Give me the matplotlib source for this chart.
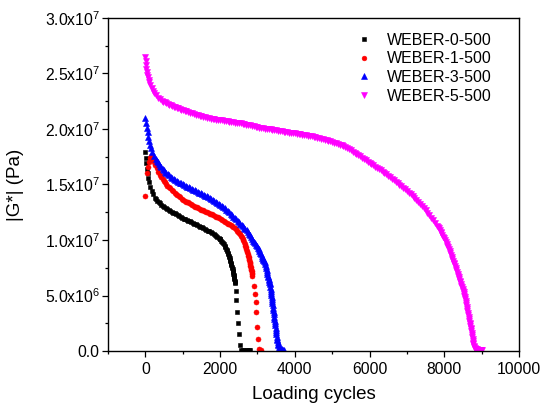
import numpy as np
import matplotlib
matplotlib.use("Agg")
import matplotlib.pyplot as plt
from matplotlib.ticker import FixedLocator, MultipleLocator

plt.rcParams["font.family"] = ["Liberation Sans", "DejaVu Sans"]
plt.rcParams["mathtext.fontset"] = "custom"
plt.rcParams["mathtext.rm"] = "Liberation Sans"
plt.rcParams["mathtext.it"] = "Liberation Sans:italic"
plt.rcParams["mathtext.bf"] = "Liberation Sans:bold"

# (loading cycle, |G*| in units of 1e6 Pa) for each mixture
weber0 = [
    (0, 17.9), (15, 17.4), (30, 16.9), (45, 16.4), (60, 16.0), (80, 15.6), (105, 15.2),
    (135, 14.8), (170, 14.45), (210, 14.1), (260, 13.8), (290, 13.67), (320, 13.55),
    (355, 13.42), (390, 13.3), (430, 13.19), (470, 13.08), (510, 12.98), (550, 12.88),
    (590, 12.79), (630, 12.7), (670, 12.62), (710, 12.55), (750, 12.47), (790, 12.4),
    (830, 12.32), (870, 12.25), (910, 12.16), (950, 12.08), (990, 12.0), (1030, 11.93),
    (1070, 11.86), (1110, 11.8), (1150, 11.73), (1190, 11.67), (1230, 11.6),
    (1270, 11.53), (1310, 11.46), (1350, 11.4), (1390, 11.33), (1430, 11.27),
    (1470, 11.2), (1510, 11.13), (1550, 11.06), (1590, 11.0), (1630, 10.92),
    (1670, 10.85), (1710, 10.77), (1750, 10.7), (1790, 10.62), (1830, 10.55),
    (1865, 10.47), (1900, 10.38), (1930, 10.29), (1960, 10.2), (1985, 10.12),
    (2010, 10.05), (2035, 9.95), (2060, 9.85), (2080, 9.72), (2100, 9.6),
    (2120, 9.47), (2140, 9.35), (2158, 9.22), (2175, 9.1), (2190, 8.97), (2205, 8.85),
    (2218, 8.72), (2230, 8.6), (2243, 8.47), (2255, 8.35), (2265, 8.22), (2275, 8.1),
    (2285, 7.97), (2295, 7.85), (2305, 7.72), (2315, 7.6), (2325, 7.47), (2335, 7.35),
    (2343, 7.22), (2350, 7.1), (2358, 6.97), (2365, 6.85), (2372, 6.72), (2378, 6.6),
    (2384, 6.47), (2390, 6.35), (2395, 6.22), (2400, 6.1), (2417, 5.45), (2435, 4.55),
    (2458, 3.5), (2482, 2.5), (2507, 1.5), (2532, 0.5), (2570, 0.1), (2620, 0.08),
    (2670, 0.06), (2720, 0.05), (2770, 0.05), (2810, 0.05),
]

weber1 = [
    (0, 14.0), (40, 16.05), (70, 16.6), (95, 17.05), (120, 17.4), (150, 17.55),
    (185, 17.3), (220, 17.05), (260, 16.8), (300, 16.5), (350, 16.15), (400, 15.85),
    (430, 15.67), (460, 15.5), (490, 15.35), (520, 15.2), (555, 15.05), (590, 14.9),
    (625, 14.77), (660, 14.65), (700, 14.51), (740, 14.38), (780, 14.26), (820, 14.15),
    (860, 14.04), (900, 13.93), (940, 13.83), (980, 13.73), (1020, 13.64),
    (1060, 13.55), (1100, 13.46), (1140, 13.38), (1180, 13.3), (1220, 13.22),
    (1260, 13.14), (1300, 13.07), (1340, 13.0), (1380, 12.93), (1420, 12.86),
    (1460, 12.8), (1500, 12.73), (1540, 12.67), (1580, 12.61), (1620, 12.55),
    (1660, 12.48), (1700, 12.42), (1740, 12.36), (1780, 12.3), (1820, 12.23),
    (1860, 12.17), (1900, 12.1), (1940, 12.03), (1980, 11.97), (2020, 11.9),
    (2060, 11.82), (2100, 11.73), (2140, 11.65), (2180, 11.56), (2215, 11.48),
    (2250, 11.41), (2285, 11.34), (2320, 11.27), (2355, 11.18), (2390, 11.08),
    (2420, 10.97), (2450, 10.85), (2478, 10.74), (2505, 10.62), (2530, 10.51),
    (2555, 10.4), (2578, 10.26), (2600, 10.12), (2620, 9.96), (2640, 9.8),
    (2658, 9.65), (2675, 9.5), (2690, 9.34), (2705, 9.18), (2718, 9.04), (2730, 8.9),
    (2741, 8.75), (2752, 8.6), (2762, 8.45), (2772, 8.3), (2781, 8.17), (2790, 8.05),
    (2798, 7.92), (2805, 7.8), (2813, 7.67), (2820, 7.55), (2828, 7.42), (2835, 7.3),
    (2842, 7.17), (2848, 7.05), (2855, 6.9), (2862, 6.75), (2900, 5.85), (2928, 5.1),
    (2950, 4.4), (2970, 3.55), (2995, 2.2), (3015, 1.1), (3045, 0.18), (3100, 0.05),
]

weber3 = [
    (0, 21.0), (20, 20.5), (40, 20.1), (60, 19.7), (80, 19.3), (100, 18.95),
    (125, 18.6), (155, 18.25), (190, 17.9), (230, 17.6), (275, 17.3), (300, 17.15),
    (330, 17.0), (360, 16.85), (390, 16.7), (425, 16.56), (460, 16.42), (495, 16.3),
    (530, 16.17), (565, 16.06), (600, 15.95), (640, 15.83), (680, 15.72), (720, 15.62),
    (760, 15.52), (800, 15.43), (840, 15.35), (880, 15.26), (920, 15.18), (960, 15.1),
    (1000, 15.03), (1040, 14.95), (1080, 14.88), (1120, 14.81), (1160, 14.74),
    (1200, 14.67), (1240, 14.6), (1280, 14.53), (1320, 14.47), (1360, 14.4),
    (1400, 14.34), (1440, 14.27), (1480, 14.2), (1520, 14.13), (1560, 14.06),
    (1600, 13.99), (1640, 13.92), (1680, 13.85), (1720, 13.77), (1760, 13.69),
    (1800, 13.6), (1840, 13.52), (1880, 13.43), (1920, 13.34), (1960, 13.25),
    (2000, 13.17), (2040, 13.1), (2080, 12.98), (2120, 12.85), (2160, 12.73),
    (2200, 12.6), (2240, 12.48), (2280, 12.35), (2318, 12.23), (2355, 12.1),
    (2392, 11.98), (2430, 11.85), (2468, 11.73), (2505, 11.6), (2540, 11.48),
    (2575, 11.35), (2610, 11.22), (2645, 11.1), (2678, 11.0), (2711, 10.9),
    (2743, 10.74), (2775, 10.57), (2805, 10.41), (2835, 10.25), (2862, 10.1),
    (2890, 9.95), (2915, 9.83), (2940, 9.7), (2962, 9.59), (2985, 9.47), (3008, 9.31),
    (3030, 9.15), (3050, 9.0), (3070, 8.85), (3090, 8.7), (3110, 8.55), (3128, 8.42),
    (3145, 8.3), (3160, 8.2), (3175, 8.1), (3190, 7.98), (3205, 7.85), (3218, 7.68),
    (3230, 7.5), (3243, 7.33), (3255, 7.15), (3268, 6.98), (3280, 6.8), (3290, 6.65),
    (3300, 6.5), (3310, 6.38), (3320, 6.25), (3329, 6.12), (3338, 6.0), (3345, 5.8),
    (3352, 5.6), (3359, 5.42), (3366, 5.25), (3373, 5.08), (3380, 4.9), (3388, 4.7),
    (3395, 4.5), (3402, 4.3), (3410, 4.1), (3417, 3.9), (3424, 3.7), (3431, 3.5),
    (3439, 3.3), (3446, 3.1), (3454, 2.9), (3461, 2.7), (3469, 2.5), (3476, 2.3),
    (3484, 2.1), (3491, 1.9), (3499, 1.7), (3506, 1.5), (3514, 1.3), (3522, 1.12),
    (3530, 0.95), (3540, 0.8), (3550, 0.65), (3563, 0.52), (3576, 0.4), (3593, 0.32),
    (3610, 0.25), (3645, 0.17), (3680, 0.12), (3720, 0.07),
]

weber5 = [
    (0, 26.5), (10, 26.1), (20, 25.75), (30, 25.45), (42, 25.15), (55, 24.9),
    (70, 24.65), (88, 24.4), (110, 24.2), (135, 23.95), (165, 23.7), (200, 23.45),
    (240, 23.22), (285, 23.02), (335, 22.83), (390, 22.67), (450, 22.52), (485, 22.45),
    (520, 22.39), (560, 22.32), (600, 22.26), (640, 22.2), (680, 22.13), (720, 22.07),
    (760, 22.01), (800, 21.95), (840, 21.9), (880, 21.85), (920, 21.8), (960, 21.75),
    (1000, 21.71), (1050, 21.65), (1100, 21.6), (1150, 21.54), (1200, 21.48),
    (1250, 21.42), (1300, 21.36), (1350, 21.3), (1400, 21.24), (1450, 21.18),
    (1500, 21.13), (1550, 21.08), (1600, 21.04), (1650, 21.0), (1700, 20.96),
    (1750, 20.93), (1800, 20.9), (1850, 20.87), (1900, 20.85), (1950, 20.82),
    (2000, 20.8), (2050, 20.77), (2100, 20.74), (2150, 20.71), (2200, 20.69),
    (2250, 20.66), (2300, 20.63), (2350, 20.6), (2400, 20.58), (2450, 20.55),
    (2500, 20.53), (2550, 20.5), (2600, 20.47), (2650, 20.44), (2700, 20.4),
    (2750, 20.36), (2800, 20.32), (2850, 20.28), (2900, 20.24), (2950, 20.2),
    (3000, 20.15), (3050, 20.12), (3100, 20.1), (3150, 20.07), (3200, 20.04),
    (3250, 20.01), (3300, 19.99), (3350, 19.96), (3400, 19.93), (3450, 19.9),
    (3500, 19.88), (3550, 19.85), (3600, 19.82), (3650, 19.8), (3700, 19.77),
    (3750, 19.74), (3800, 19.71), (3850, 19.68), (3900, 19.66), (3950, 19.63),
    (4000, 19.6), (4050, 19.57), (4100, 19.55), (4150, 19.52), (4200, 19.49),
    (4250, 19.46), (4300, 19.43), (4350, 19.4), (4400, 19.37), (4450, 19.34),
    (4500, 19.3), (4550, 19.25), (4600, 19.2), (4650, 19.15), (4700, 19.11),
    (4750, 19.06), (4800, 19.02), (4850, 18.97), (4900, 18.93), (4950, 18.88),
    (5000, 18.84), (5050, 18.78), (5100, 18.72), (5150, 18.65), (5200, 18.58),
    (5250, 18.52), (5300, 18.45), (5350, 18.38), (5400, 18.3), (5450, 18.19),
    (5500, 18.08), (5550, 17.97), (5600, 17.86), (5650, 17.75), (5700, 17.64),
    (5750, 17.53), (5800, 17.42), (5850, 17.3), (5900, 17.19), (5950, 17.07),
    (6000, 16.96), (6050, 16.84), (6100, 16.73), (6150, 16.61), (6200, 16.5),
    (6250, 16.38), (6300, 16.27), (6350, 16.15), (6400, 16.03), (6450, 15.91),
    (6500, 15.78), (6550, 15.65), (6600, 15.51), (6650, 15.38), (6700, 15.24),
    (6750, 15.1), (6800, 14.97), (6850, 14.83), (6900, 14.7), (6950, 14.56),
    (7000, 14.42), (7050, 14.26), (7100, 14.1), (7150, 13.93), (7200, 13.76),
    (7250, 13.59), (7300, 13.42), (7350, 13.25), (7400, 13.07), (7450, 12.88),
    (7500, 12.68), (7550, 12.46), (7600, 12.23), (7650, 12.0), (7700, 11.77),
    (7750, 11.54), (7800, 11.3), (7825, 11.18), (7850, 11.05), (7875, 10.9),
    (7900, 10.75), (7925, 10.6), (7950, 10.45), (7975, 10.3), (8000, 10.15),
    (8020, 10.0), (8040, 9.85), (8060, 9.68), (8080, 9.5), (8100, 9.33), (8120, 9.15),
    (8140, 8.98), (8160, 8.8), (8180, 8.65), (8200, 8.5), (8218, 8.32), (8235, 8.15),
    (8253, 7.97), (8270, 7.8), (8288, 7.62), (8305, 7.45), (8323, 7.27), (8340, 7.1),
    (8355, 6.95), (8370, 6.8), (8385, 6.65), (8400, 6.5), (8415, 6.35), (8430, 6.2),
    (8445, 6.05), (8460, 5.9), (8475, 5.75), (8490, 5.6), (8503, 5.45), (8515, 5.3),
    (8528, 5.15), (8540, 5.0), (8550, 4.82), (8560, 4.65), (8570, 4.47), (8580, 4.3),
    (8590, 4.12), (8600, 3.95), (8610, 3.77), (8620, 3.6), (8630, 3.42), (8640, 3.25),
    (8650, 3.07), (8660, 2.9), (8670, 2.72), (8680, 2.55), (8690, 2.4), (8700, 2.25),
    (8710, 2.1), (8720, 1.95), (8728, 1.78), (8735, 1.6), (8743, 1.42), (8750, 1.25),
    (8758, 1.07), (8765, 0.9), (8773, 0.75), (8780, 0.6), (8790, 0.47), (8800, 0.35),
    (8815, 0.27), (8830, 0.2), (8850, 0.17), (8870, 0.15), (8895, 0.13), (8920, 0.12),
    (8945, 0.11), (8970, 0.1), (8995, 0.1), (9020, 0.1),
]

series_labels = ["WEBER-0-500", "WEBER-1-500", "WEBER-3-500", "WEBER-5-500"]
series_colors = ["#000000", "#ff0000", "#0000ff", "#ff00ff"]

y_ticks = [0.0, 5e6, 1e7, 1.5e7, 2e7, 2.5e7, 3e7]
y_tick_labels = ["0.0", r"5.0x10$^{6}$", r"1.0x10$^{7}$", r"1.5x10$^{7}$",
                 r"2.0x10$^{7}$", r"2.5x10$^{7}$", r"3.0x10$^{7}$"]
x_ticks = [0, 2000, 4000, 6000, 8000, 10000]

fig = plt.figure(figsize=(5.41, 4.11), dpi=100)
ax = fig.add_axes([108 / 541, 60 / 411, 411 / 541, 333 / 411])

markers = [("s", 3.1), ("o", 3.6), ("^", 4.2), ("v", 4.4)]
for pts, (mk, ms), col, lab in zip([weber0, weber1, weber3, weber5], markers,
                                   series_colors, series_labels):
    xs = np.array([p[0] for p in pts], dtype=float)
    ys = np.array([p[1] for p in pts]) * 1e6
    ax.plot(xs, ys, linestyle="none", marker=mk, color=col, markersize=ms,
            markeredgewidth=0.4, label=lab)

ax.set_xlim(-1000, 10000)
ax.set_ylim(0, 3e7)
ax.xaxis.set_major_locator(FixedLocator(x_ticks))
ax.xaxis.set_minor_locator(MultipleLocator(1000))
ax.yaxis.set_major_locator(FixedLocator(y_ticks))
ax.set_yticklabels(y_tick_labels)
ax.yaxis.set_minor_locator(MultipleLocator(2.5e6))

for sp in ax.spines.values():
    sp.set_linewidth(1.0)

ax.tick_params(which="major", direction="out", length=4.0, width=0.9,
               labelsize=11.3, pad=3)
ax.tick_params(which="minor", direction="out", length=2.5, width=0.9)
ax.tick_params(axis="x", which="major", pad=4)
ax.tick_params(axis="y", which="major", pad=2)

ax.set_xlabel("Loading cycles", fontsize=13.5)
ax.set_ylabel("|G*| (Pa)", fontsize=13.5)
ax.xaxis.set_label_coords(0.5, -0.105)
ax.yaxis.set_label_coords(-0.205, 0.5)

ax.legend(loc="upper left", bbox_to_anchor=(0.603, 0.955), frameon=False,
          fontsize=11.5, handlelength=1.0, handletextpad=0.95,
          labelspacing=0.22, borderpad=0, borderaxespad=0,
          numpoints=1, markerscale=0.95)

fig.savefig("out.png", dpi=100)
